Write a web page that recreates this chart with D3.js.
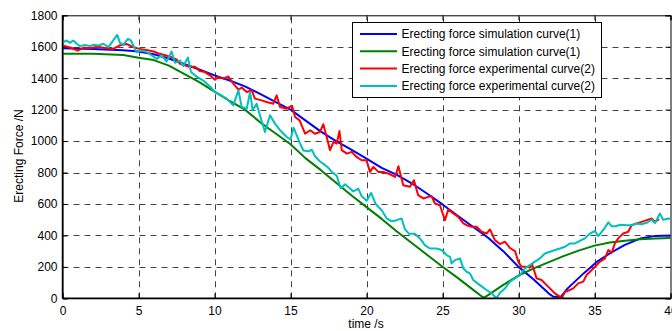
<!DOCTYPE html>
<html>
<head>
<meta charset="utf-8">
<script src="https://cdn.jsdelivr.net/npm/d3@7"></script>
<style>
html,body{margin:0;padding:0;background:#fff;}
svg{display:block;font-family:"Liberation Sans",Arial,sans-serif;}
</style>
</head>
<body>
<svg id="chart" width="672" height="331"></svg>
<script>
// ---- data ----
const xTicks = [0,5,10,15,20,25,30,35,40];
const yTicks = [0,200,400,600,800,1000,1200,1400,1600,1800];
const legendLabels = [
  "Erecting force simulation curve(1)",
  "Erecting force simulation curve(1)",
  "Erecting force experimental curve(2)",
  "Erecting force experimental curve(2)"
];
const seriesColors = ["#0000ff","#008000","#ff0000","#00bfbf"];

const blueTime  = [0,2,4,5,6,7,8,9,10,11,12,13,14,15,16,17,18,19,20,21,22,23,24,25,26,27,28,29,30,31,32,32.3,32.8,33.2,34.3,35.2,36,37,38,39,40];
const blueForce = [1590,1586,1578,1570,1552,1525,1490,1455,1418,1385,1348,1300,1250,1200,1130,1060,1000,945,889,830,785,730,665,597,525,455,385,300,200,120,30,10,10,60,160,235,285,340,380,397,400];

const greenTime  = [0,2,4,5,6,7,8,9,10,11,12,13,14,15,16,17,18,19,20,21,22,23,24,25,26,27,27.7,28,29,30,31,32,33,34,35,36,37,38,39,40];
const greenForce = [1556,1555,1548,1530,1515,1480,1428,1375,1315,1255,1200,1120,1050,980,890,815,735,655,580,505,425,350,275,201,130,55,3,20,85,145,190,230,270,305,335,355,366,375,380,383];

const redTime = [0,0.5,1.0,1.4,1.8,2.3,2.8,3.3,3.8,4.2,4.6,5.0,5.5,6.0,6.4,7.0,7.5,7.73,8.39,8.72,9.05,9.37,9.7,10.03,10.25,10.58,10.91,11.24,11.57,11.79,12.12,12.45,12.66,13.1,13.43,13.87,14.09,14.31,14.75,15.1,15.3,15.6,15.96,16.3,16.6,16.94,17.16,17.38,17.6,17.82,18.04,18.22,18.37,18.7,19.03,19.35,19.68,20.0,20.23,20.45,20.78,21.1,21.55,21.88,22.1,22.42,22.86,23.12,23.4,23.74,24.06,24.28,24.5,24.83,25.16,25.38,25.71,26.04,26.37,26.59,26.91,27.24,27.57,27.9,28.12,28.45,28.78,29.1,29.44,29.77,30.0,30.2,30.5,30.75,30.9,31.19,31.52,31.85,32.07,32.4,32.73,32.84,33.06,33.39,33.6,33.93,34.26,34.48,34.7,35.03,35.36,35.69,35.91,36.13,36.34,36.56,36.89,37.22,37.44,37.77,38.1,38.43,38.76,38.98,39.2];
const redForce = [1608,1595,1575,1595,1590,1600,1592,1585,1610,1618,1600,1588,1580,1570,1555,1540,1520,1492,1471,1472,1445,1439,1418,1390,1407,1397,1411,1365,1327,1340,1312,1323,1270,1259,1249,1238,1291,1217,1206,1225,1153,1132,1047,1069,1047,1058,1107,1026,942,994,984,1064,942,920,931,899,878,878,804,836,804,804,789,772,840,719,709,751,656,635,645,650,603,592,497,565,540,518,476,465,455,455,423,412,438,370,345,360,320,300,230,200,200,195,215,127,116,84,63,31,10,0,42,53,63,95,106,148,169,201,233,254,307,290,349,381,412,423,465,476,486,497,508,486,500];

const cyanTime = [0.05,0.27,0.49,0.71,0.93,1.15,1.48,1.81,2.03,2.36,2.69,3.02,3.34,3.6,3.78,4.0,4.3,4.5,4.66,4.88,5.2,5.54,5.87,6.2,6.52,6.85,7.18,7.4,7.73,7.95,8.25,8.45,8.83,9.26,9.7,10.03,10.47,10.8,11.24,11.57,11.79,12.12,12.34,12.51,12.77,12.99,13.32,13.65,13.98,14.31,14.75,15.0,15.2,15.4,15.6,15.85,16.18,16.4,16.6,16.94,17.16,17.49,17.71,18.04,18.3,18.59,18.92,19.13,19.46,19.68,20.01,20.3,20.6,21.0,21.33,21.66,21.99,22.31,22.53,22.8,23.19,23.52,23.84,24.17,24.61,24.94,25.27,25.49,25.6,25.82,26.15,26.37,26.59,26.8,27.02,27.46,27.9,28.23,28.56,28.78,29.11,29.44,29.77,30.1,30.42,30.75,31.08,31.41,31.74,32.07,32.4,32.73,33.06,33.39,33.72,34.04,34.37,34.7,35.03,35.25,35.47,35.69,35.91,36.13,36.4,36.7,37.11,37.44,37.77,38.1,38.43,38.76,38.98,39.3,39.52,39.85,40];
const cyanForce = [1629,1640,1625,1640,1619,1604,1612,1604,1612,1608,1619,1598,1640,1675,1625,1612,1650,1640,1608,1566,1576,1566,1545,1523,1545,1506,1570,1498,1513,1477,1532,1440,1410,1385,1347,1312,1290,1270,1227,1323,1217,1206,1312,1196,1238,1164,1058,1164,1111,1069,1026,1010,1085,1040,990,940,935,945,905,870,855,830,805,780,700,725,698,680,698,650,620,670,600,560,508,490,497,508,440,410,410,381,338,317,317,307,275,264,222,243,254,190,169,159,116,84,53,32,0,35,63,106,127,148,190,211,233,254,285,296,307,317,328,349,349,366,381,412,428,396,422,450,483,458,458,468,465,465,476,471,480,500,478,539,500,508,505];

// ---- layout ----
const W = 672, H = 331;
const plotL = 62.5, plotR = 670.5, plotT = 15.3, plotB = 298.3;

const svg = d3.select("#chart");
const x = d3.scaleLinear().domain([0,40]).range([plotL, plotR]);
const y = d3.scaleLinear().domain([0,1800]).range([plotB, plotT]);

svg.append("rect").attr("x",0).attr("y",0).attr("width",W).attr("height",H).attr("fill","#fff");

// grid
const grid = svg.append("g").attr("stroke","#444").attr("stroke-width",1).attr("stroke-dasharray","6,5").attr("fill","none");
xTicks.slice(1,-1).forEach(t=>{
  grid.append("line").attr("x1",Math.round(x(t))+0.5).attr("x2",Math.round(x(t))+0.5).attr("y1",plotB).attr("y2",plotT);
});
yTicks.slice(1,-1).forEach(t=>{
  grid.append("line").attr("y1",Math.round(y(t))+0.5).attr("y2",Math.round(y(t))+0.5).attr("x1",plotL).attr("x2",plotR);
});

// axes with inward ticks
const axB = d3.axisBottom(x).tickValues(xTicks).tickSize(-5).tickPadding(8).tickFormat(d3.format("d"));
const axL = d3.axisLeft(y).tickValues(yTicks).tickSize(-5).tickPadding(5).tickFormat(d3.format("d"));
const axT = d3.axisTop(x).tickValues(xTicks).tickSize(-5).tickFormat("");
const axR = d3.axisRight(y).tickValues(yTicks).tickSize(-5).tickFormat("");

function styleAxis(g){
  g.select(".domain").attr("stroke","#000").attr("stroke-width",1);
  g.selectAll(".tick line").attr("stroke","#000");
  g.selectAll("text").attr("fill","#000").style("font-size","12px").style("font-family","'Liberation Sans',Arial,sans-serif");
}
svg.append("g").attr("transform",`translate(0,${plotB})`).call(axB).call(styleAxis);
svg.append("g").attr("transform",`translate(${plotL},0)`).call(axL).call(styleAxis);
svg.append("g").attr("transform",`translate(0,${plotT})`).call(axT).call(styleAxis);
svg.append("g").attr("transform",`translate(${plotR},0)`).call(axR).call(styleAxis);

// curves
const line = d3.line().x(d=>x(d[0])).y(d=>y(d[1]));
const series = [
  d3.zip(blueTime, blueForce),
  d3.zip(greenTime, greenForce),
  d3.zip(redTime, redForce),
  d3.zip(cyanTime, cyanForce)
];
const drawOrder = [0,1,2,3];
const clip = svg.append("clipPath").attr("id","clip").append("rect")
  .attr("x",plotL).attr("y",plotT-2).attr("width",plotR-plotL).attr("height",plotB-plotT+2);
const curves = svg.append("g").attr("clip-path","url(#clip)");
drawOrder.forEach(i=>{
  curves.append("path").datum(series[i]).attr("d",line)
    .attr("fill","none").attr("stroke",seriesColors[i]).attr("stroke-width",2)
    .attr("stroke-linejoin","round").attr("stroke-linecap","round");
});

// bottom axis line redrawn on top
svg.append("line").attr("x1",plotL).attr("x2",plotR).attr("y1",plotB).attr("y2",plotB).attr("stroke","#000").attr("stroke-width",1.5);
svg.append("line").attr("x1",plotL).attr("x2",plotL).attr("y1",plotT).attr("y2",plotB).attr("stroke","#000").attr("stroke-width",1.5);

// axis titles
svg.append("text").attr("x",366).attr("y",328).attr("text-anchor","middle")
  .style("font-size","12px").text("time /s");
svg.append("text").attr("transform","translate(23,156) rotate(-90)").attr("text-anchor","middle")
  .style("font-size","12px").text("Erecting Force /N");

// legend
const lg = svg.append("g");
lg.append("rect").attr("x",352.5).attr("y",22.5).attr("width",249).attr("height",75)
  .attr("fill","#fff").attr("stroke","#000").attr("stroke-width",1);
const rowY = [34,51.3,68.6,86];
legendLabels.forEach((lab,i)=>{
  lg.append("line").attr("x1",360).attr("x2",397).attr("y1",rowY[i]).attr("y2",rowY[i])
    .attr("stroke",seriesColors[i]).attr("stroke-width",2);
  lg.append("text").attr("x",401.5).attr("y",rowY[i]+4.2).style("font-size","12px").attr("fill","#000").text(lab);
});
</script>
</body>
</html>
